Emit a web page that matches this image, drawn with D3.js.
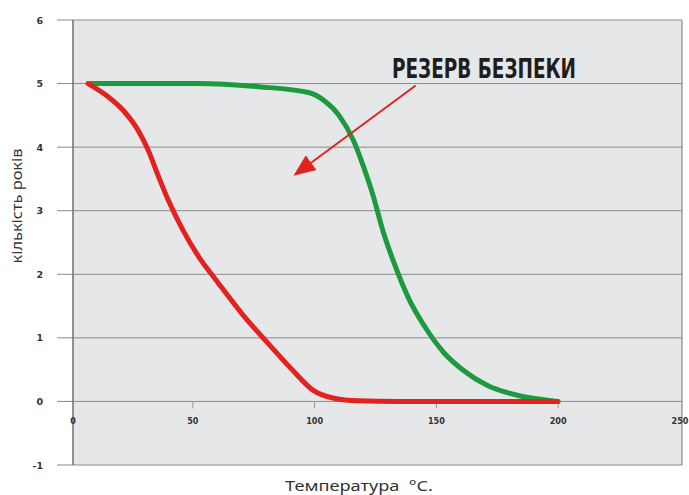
<!DOCTYPE html>
<html><head><meta charset="utf-8">
<script src="https://cdn.jsdelivr.net/npm/d3@7"></script>
<style>body{margin:0;background:#fff}svg{display:block}</style>
</head><body>
<svg id="c" width="689" height="495"></svg>
<script>
const yTicks = [6,5,4,3,2,1,0,-1];
const xTicks = [0,50,100,150,200,250];
const greenX = [8,52,77,97.5,104,110,116,120,124,128,132.5,139,145,153,161,171,184,195.5,200];
const greenY = [5,5,4.95,4.86,4.73,4.5,4.1,3.7,3.24,2.69,2.19,1.59,1.19,0.77,0.49,0.25,0.09,0.02,0];
const redX = [7,15,21.4,27.6,31.7,35.8,40,46,52,60.5,70.8,81,91,99.6,108,118,134.6,199.6];
const redY = [5,4.8,4.58,4.26,3.95,3.55,3.16,2.69,2.3,1.86,1.35,0.91,0.49,0.17,0.05,0.01,0,0];
const annotation = "РЕЗЕРВ БЕЗПЕКИ";
const xTitle = "Температура  °C.";
const yTitle = "кількість років";

const svg = d3.select("#c");
const L=73, R=682, T=20, B=465;
const x = d3.scaleLinear().domain([0,250]).range([71,680]);
const y = d3.scaleLinear().domain([-1,6]).range([B,T]);

svg.append("rect").attr("x",L).attr("y",T).attr("width",R-L).attr("height",B-T).attr("fill","#e6e7e9");

// gridlines
svg.append("g").selectAll("line").data(yTicks).join("line")
  .attr("x1",57).attr("x2",R).attr("y1",d=>y(d)).attr("y2",d=>y(d))
  .attr("stroke","#8a8a8a").attr("stroke-width",1);
// borders
svg.append("line").attr("x1",L).attr("x2",L).attr("y1",T).attr("y2",B).attr("stroke","#6f6f6f").attr("stroke-width",1.5);
svg.append("line").attr("x1",R).attr("x2",R).attr("y1",T).attr("y2",B).attr("stroke","#8a8a8a").attr("stroke-width",1.2);

// y tick labels
svg.append("g").selectAll("text").data(yTicks).join("text")
  .attr("x",43).attr("y",d=>y(d)+3.5).attr("text-anchor","end")
  .attr("font-family","DejaVu Sans").attr("font-weight","bold").attr("font-size",9.5)
  .attr("fill","#333").text(d=>d);
// x ticks
svg.append("g").selectAll("line").data(xTicks.filter(d=>d>0&&d<250)).join("line")
  .attr("x1",d=>x(d)).attr("x2",d=>x(d)).attr("y1",y(0)).attr("y2",y(0)+7)
  .attr("stroke","#999").attr("stroke-width",1);
svg.append("g").selectAll("text").data(xTicks).join("text")
  .attr("x",d=>d===0?L:x(d)).attr("y",y(0)+23).attr("text-anchor","middle")
  .attr("font-family","DejaVu Sans Condensed, DejaVu Sans").attr("font-weight","bold").attr("font-size",9)
  .attr("fill","#333").text(d=>d);

const line = d3.line().x(d=>x(d[0])).y(d=>y(d[1])).curve(d3.curveMonotoneX);
svg.append("path").datum(d3.zip(greenX,greenY)).attr("d",line)
  .attr("fill","none").attr("stroke","#1e9a3e").attr("stroke-width",5).attr("stroke-linecap","round");
svg.append("path").datum(d3.zip(redX,redY)).attr("d",line)
  .attr("fill","none").attr("stroke","#e3211f").attr("stroke-width",5).attr("stroke-linecap","round");

// annotation arrow
const ax1=x(141.5), ay1=y(4.97), ax2=x(91.3), ay2=y(3.55);
const ang=Math.atan2(ay2-ay1, ax2-ax1);
const hl=22, hw=9;
const bx=ax2-hl*Math.cos(ang), by=ay2-hl*Math.sin(ang);
svg.append("line").attr("x1",ax1).attr("y1",ay1).attr("x2",bx).attr("y2",by)
  .attr("stroke","#e3211f").attr("stroke-width",2);
svg.append("path").attr("d",`M${ax2},${ay2}L${bx-hw*Math.sin(ang)},${by+hw*Math.cos(ang)}L${bx+hw*Math.sin(ang)},${by-hw*Math.cos(ang)}Z`)
  .attr("fill","#e3211f");
svg.append("text").attr("x",392).attr("y",78).attr("textLength",184).attr("lengthAdjust","spacingAndGlyphs")
  .attr("font-family","Liberation Sans Narrow, DejaVu Sans Condensed").attr("font-weight","bold").attr("font-size",26)
  .attr("fill","#1e1e1e").text(annotation);

svg.append("text").attr("x",285).attr("y",491).attr("font-family","Noto Sans, DejaVu Sans").attr("font-size",15)
  .attr("fill","#333").style("white-space","pre").attr("textLength",148).attr("lengthAdjust","spacingAndGlyphs").text(xTitle);
svg.append("text").attr("transform","translate(22,206) rotate(-90)").attr("text-anchor","middle")
  .attr("font-family","Noto Sans, DejaVu Sans").attr("font-size",14).attr("fill","#333")
  .attr("textLength",115).attr("lengthAdjust","spacingAndGlyphs").text(yTitle);
</script>
</body></html>
